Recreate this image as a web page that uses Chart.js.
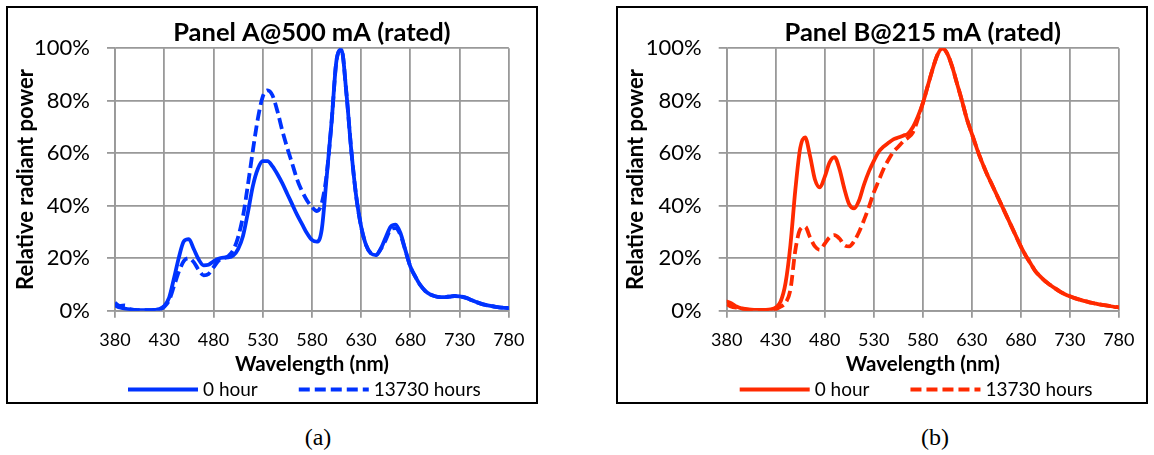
<!DOCTYPE html>
<html>
<head>
<meta charset="utf-8">
<script src="https://cdn.jsdelivr.net/npm/chart.js@4.4.1/dist/chart.umd.min.js"></script>
<style>
  body { margin: 0; background: #fff; width: 1154px; height: 455px; position: relative; overflow: hidden; }
  .panel { position: absolute; top: 6px; width: 528px; height: 394px; border: 2px solid #000; }
  .panel canvas { display: block; }
  .caption { position: absolute; top: 423px; width: 60px; line-height: 28px; text-align: center; font-family: "Liberation Serif", serif; font-size: 24px; }
</style>
</head>
<body>
<div class="panel" style="left:6px"><canvas id="chartA" width="528" height="394"></canvas></div>
<div class="panel" style="left:616px"><canvas id="chartB" width="528" height="394"></canvas></div>
<div class="caption" style="left:288px">(a)</div>
<div class="caption" style="left:905px">(b)</div>
<script>
// wavelength grid (nm), 5 nm step
const wavelengths = [
  380,385,390,395,400,405,410,415,420,425,430,435,440,445,450,455,460,465,470,475,
  480,485,490,495,500,505,510,515,520,525,530,535,540,545,550,555,560,565,570,575,
  580,585,590,595,600,605,610,615,620,625,630,635,640,645,650,655,660,665,670,675,
  680,685,690,695,700,705,710,715,720,725,730,735,740,745,750,755,760,765,770,775,780
];
const xTicks = [380, 430, 480, 530, 580, 630, 680, 730, 780];
const seriesLabels = ['0 hour', '13730 hours'];

// Panel A, relative radiant power (%)
const panelA0h = [
  2.0,1.2,0.8,0.5,0.3,0.2,0.2,0.2,0.3,0.6,1.8,5.0,12.5,20.5,26.5,27.3,23.5,19.5,17.3,17.5,
  18.8,19.8,20.2,20.3,21.0,23.5,28.5,37.5,47.5,54.0,57.0,57.0,55.0,52.0,48.5,44.5,40.5,36.5,33.0,29.5,
  27.0,26.3,31.0,51.0,72.0,95.5,99.5,83.0,61.0,43.5,32.0,25.0,21.8,21.2,23.7,28.0,32.0,32.8,29.5,23.0,
  16.8,13.0,9.8,7.6,6.2,5.5,5.2,5.2,5.4,5.6,5.5,5.1,4.4,3.6,2.9,2.3,1.9,1.6,1.3,1.1,1.0
];
const panelA13730h = [
  3.0,1.8,2.0,0.6,0.3,0.2,0.2,0.2,0.3,0.5,1.5,4.0,9.5,15.0,19.0,20.0,18.5,15.5,13.5,14.0,
  16.5,19.0,20.0,20.8,23.0,28.0,36.0,48.0,61.0,73.0,81.5,84.0,82.0,76.0,68.5,62.0,56.0,50.0,45.5,42.0,
  39.5,38.0,41.0,52.0,72.0,95.5,99.5,83.0,61.0,43.5,32.0,25.0,21.8,21.2,23.5,27.0,31.0,31.5,28.8,22.8,
  16.8,13.0,9.8,7.6,6.2,5.5,5.2,5.2,5.4,5.6,5.5,5.1,4.4,3.6,2.9,2.3,1.9,1.6,1.3,1.1,1.0
];

// Panel B, relative radiant power (%)
const panelB0h = [
  3.5,2.8,1.6,0.9,0.6,0.4,0.3,0.3,0.3,0.5,1.2,3.5,10.5,25.0,46.0,62.0,66.0,59.0,50.0,47.0,
  51.0,56.5,58.5,54.0,46.5,40.5,39.0,42.0,48.0,53.0,57.0,60.5,62.5,64.0,65.3,66.0,66.7,67.5,70.0,74.0,
  79.0,85.5,92.0,97.5,100.0,98.0,93.0,86.5,80.0,73.0,67.5,62.0,57.0,52.5,48.5,44.5,40.5,36.5,32.5,28.5,
  24.5,21.0,18.0,15.0,13.0,11.2,9.8,8.5,7.3,6.3,5.5,4.8,4.2,3.7,3.2,2.8,2.4,2.1,1.8,1.5,1.3
];
const panelB13730h = [
  2.5,1.5,1.2,0.8,0.5,0.3,0.3,0.3,0.3,0.3,0.5,1.5,3.0,8.0,23.0,31.0,32.0,28.0,24.5,23.2,
  25.5,28.0,28.8,27.5,25.0,24.5,26.5,30.0,34.5,39.5,45.0,49.5,54.0,57.5,60.5,62.5,64.5,66.0,68.0,73.0,
  79.0,85.5,92.0,97.5,100.0,98.0,93.0,86.5,80.0,73.0,67.5,62.0,57.0,52.5,48.5,44.5,40.5,36.5,32.5,28.5,
  24.5,21.0,18.0,15.0,13.0,11.2,9.8,8.5,7.3,6.3,5.5,4.8,4.2,3.7,3.2,2.8,2.4,2.1,1.8,1.5,1.3
];

Chart.defaults.font.family = 'Lato';
Chart.defaults.color = '#000';

const gridColor = '#999';

// legend drawn as long line samples under the x axis title
const lineLegend = {
  id: 'lineLegend',
  afterDraw(chart, args, opts) {
    const ctx = chart.ctx;
    let x = chart.chartArea.left + opts.indent;
    ctx.save();
    ctx.font = opts.font;
    ctx.textBaseline = 'middle';
    chart.data.datasets.forEach(ds => {
      ctx.strokeStyle = ds.borderColor;
      ctx.lineWidth = ds.borderWidth;
      ctx.lineCap = 'butt';
      ctx.setLineDash(ds.borderDash || []);
      ctx.beginPath();
      ctx.moveTo(x, opts.y);
      ctx.lineTo(x + opts.sample, opts.y);
      ctx.stroke();
      x += opts.sample + opts.gap;
      ctx.fillStyle = '#000';
      ctx.fillText(ds.label, x, opts.y);
      x += ctx.measureText(ds.label).width + opts.spacing;
    });
    ctx.restore();
  }
};

function toPoints(values) {
  return wavelengths.map((w, i) => ({x: w, y: values[i]}));
}

function makeChart(id, title, solid, dashed, color, axisWidth) {
  return new Chart(document.getElementById(id), {
    type: 'line',
    data: {
      datasets: [{
        label: seriesLabels[0],
        data: toPoints(solid),
        borderColor: color,
        borderWidth: 3.8,
        borderCapStyle: 'round',
        borderJoinStyle: 'round',
        pointRadius: 0,
        cubicInterpolationMode: 'monotone'
      }, {
        label: seriesLabels[1],
        data: toPoints(dashed),
        borderColor: color,
        borderWidth: 3.8,
        borderDash: [11, 5],
        borderJoinStyle: 'round',
        pointRadius: 0,
        cubicInterpolationMode: 'monotone'
      }]
    },
    options: {
      responsive: false,
      animation: false,
      layout: { padding: { top: 0, right: 23.3, bottom: 25.7, left: 0 } },
      scales: {
        x: {
          type: 'linear',
          min: 380,
          max: 780,
          afterBuildTicks: s => { s.ticks = xTicks.map(v => ({value: v})); },
          afterFit: s => { s.height = 65.6; },
          grid: { color: gridColor, lineWidth: 1.8, tickLength: 7 },
          border: { color: gridColor, width: 1.8 },
          ticks: { font: { size: 18 }, padding: 11.5, maxRotation: 0, autoSkip: false },
          title: { display: true, text: 'Wavelength (nm)', font: { size: 20.5, weight: 'bold' }, padding: { top: 0, bottom: 0 } }
        },
        y: {
          min: 0,
          max: 100,
          afterFit: s => { s.width = axisWidth; },
          grid: { color: gridColor, lineWidth: 1.8, tickLength: 8 },
          border: { color: gridColor, width: 1.8 },
          ticks: { stepSize: 20, font: { size: 22 }, padding: 17, callback: v => v + '%' },
          title: { display: true, text: 'Relative radiant power', font: { size: 22, weight: 'bold' }, padding: { top: 4.8, bottom: 0 } }
        }
      },
      plugins: {
        legend: { display: false },
        tooltip: { enabled: false },
        title: {
          display: true,
          text: title,
          fullSize: false,
          font: { size: 25.5, weight: 'bold' },
          padding: { top: 9.4, bottom: 0.3 }
        },
        lineLegend: { indent: 13, y: 381.5, sample: 70, gap: 5, spacing: 41, font: '19px Lato' }
      }
    },
    plugins: [lineLegend]
  });
}

makeChart('chartA', 'Panel A@500 mA (rated)', panelA0h, panelA13730h, '#0033ff', 107);
makeChart('chartB', 'Panel B@215 mA (rated)', panelB0h, panelB13730h, '#ff2a00', 108.7);
</script>
</body>
</html>
